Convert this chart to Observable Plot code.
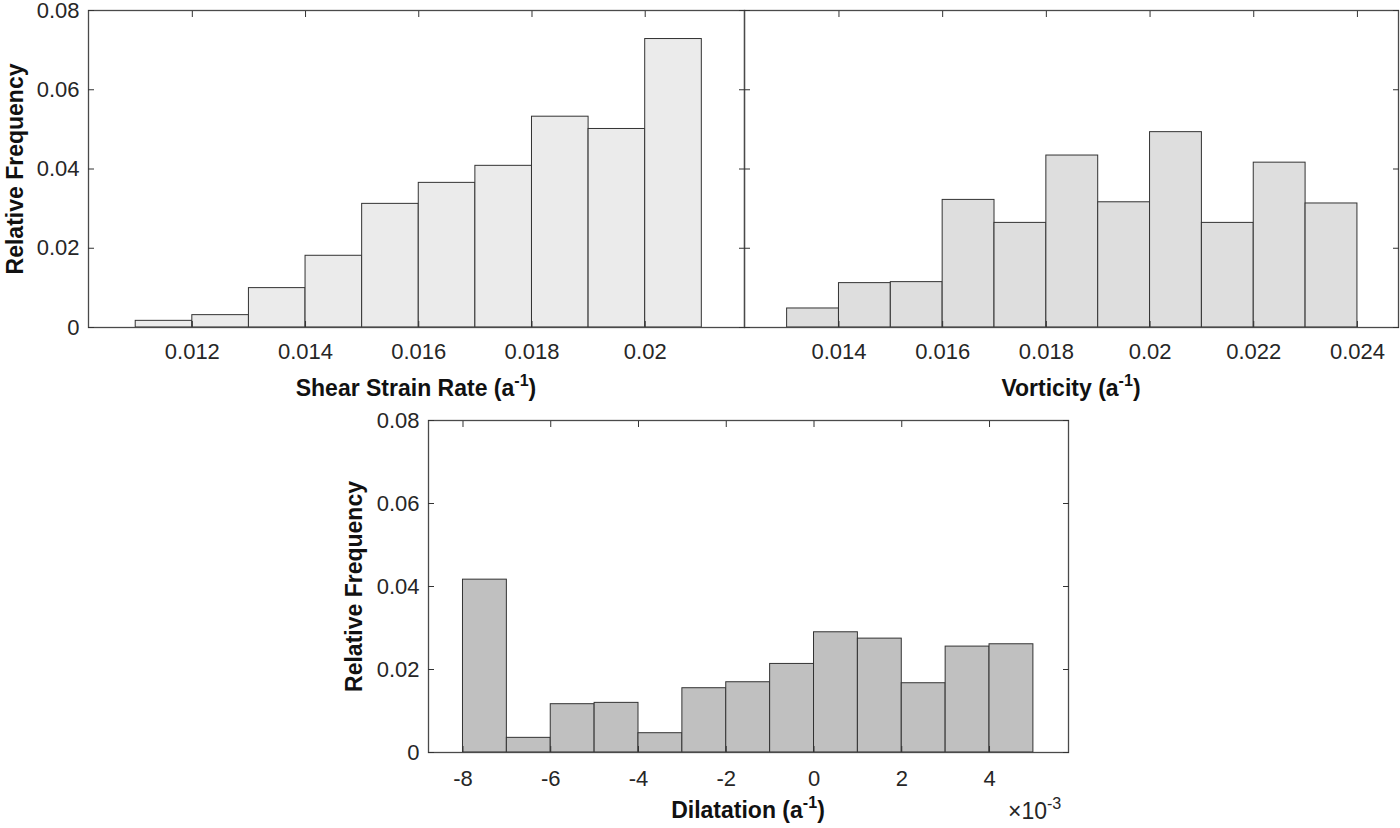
<!DOCTYPE html>
<html>
<head>
<meta charset="utf-8">
<script src="https://cdn.jsdelivr.net/npm/d3@7"></script>
<script src="https://cdn.jsdelivr.net/npm/@observablehq/plot@0.6"></script>
<style>
  html, body { margin: 0; padding: 0; background: #fff; }
  #root { position: relative; width: 1400px; height: 828px; overflow: hidden; font-family: "Liberation Sans", Arial, sans-serif; }
  .panel { position: absolute; }
  .xtitle { position: absolute; text-align: center; font-weight: bold; font-size: 23px; line-height: 23px; color: #111; white-space: nowrap; }
  .xtitle sup, .mult sup { font-size: 0.7em; vertical-align: 0.6em; line-height: 0; }
  .mult { position: absolute; font-size: 23px; line-height: 23px; color: #262626; white-space: nowrap; }
</style>
</head>
<body>
<div id="root"></div>
<script>
// ---- data ----
const yTicks = [0, 0.02, 0.04, 0.06, 0.08];

const shearEdges = [0.011, 0.012, 0.013, 0.014, 0.015, 0.016, 0.017, 0.018, 0.019, 0.020, 0.021];
const shearFreq  = [0.00168, 0.00312, 0.00994, 0.0181, 0.0312, 0.0365, 0.0408, 0.0532, 0.0501, 0.0728];
const shearTicks = [0.012, 0.014, 0.016, 0.018, 0.02];

const vortEdges = [0.013, 0.014, 0.015, 0.016, 0.017, 0.018, 0.019, 0.020, 0.021, 0.022, 0.023, 0.024];
const vortFreq  = [0.0048, 0.0112, 0.01145, 0.0322, 0.0264, 0.0434, 0.0316, 0.0493, 0.0264, 0.0416, 0.0313];
const vortTicks = [0.014, 0.016, 0.018, 0.02, 0.022, 0.024];

// dilatation in units of 1e-3 a^-1
const dilEdges = [-8, -7, -6, -5, -4, -3, -2, -1, 0, 1, 2, 3, 4, 5];
const dilFreq  = [0.04165, 0.00353, 0.01164, 0.01196, 0.00465, 0.01549, 0.01693, 0.02134, 0.02897, 0.02744, 0.01669, 0.02552, 0.02608];
const dilTicks = [-8, -6, -4, -2, 0, 2, 4];

const root = document.getElementById("root");
const fmt = d => d === 0 ? "0" : String(d);

function panel(cfg) {
  const bins = cfg.freq.map((f, i) => ({x1: cfg.edges[i], x2: cfg.edges[i + 1], y: f}));
  const marks = [
    Plot.rectY(bins, {x1: "x1", x2: "x2", y: "y", fill: cfg.fill, stroke: "#333", strokeWidth: 1}),
    Plot.frame({stroke: "#4a4a4a", strokeWidth: 1.3}),
    Plot.axisX({anchor: "bottom", ticks: cfg.xTicks, tickSize: -6, fill: "none", stroke: "#333"}),
    Plot.axisX({anchor: "top", ticks: cfg.xTicks, tickSize: -6, fill: "none", stroke: "#333"}),
    Plot.axisY({anchor: "left", ticks: yTicks, tickSize: -6, fill: "none", stroke: "#333"}),
    Plot.axisY({anchor: "right", ticks: yTicks, tickSize: -6, fill: "none", stroke: "#333"}),
    Plot.axisX({anchor: "bottom", ticks: cfg.xTicks, tickSize: 0, tickPadding: cfg.xPad, tickFormat: fmt, label: null, fill: "#262626"})
  ];
  if (cfg.yLabels) {
    marks.push(Plot.axisY({anchor: "left", ticks: yTicks, tickSize: 0, tickPadding: 9, tickFormat: fmt, label: null, fill: "#262626"}));
    marks.push(Plot.text(["Relative Frequency"], {frameAnchor: "left", text: d => d, textAnchor: "middle", rotate: -90, dx: cfg.yLabelDx, fontWeight: "bold", fontSize: 23, fill: "#111"}));
  }
  const svg = Plot.plot({
    width: cfg.width, height: cfg.height,
    marginLeft: cfg.ml, marginRight: cfg.mr, marginTop: cfg.mt, marginBottom: cfg.mb,
    x: {type: "linear", domain: cfg.xDomain},
    y: {type: "linear", domain: [0, 0.08]},
    style: {fontSize: "22px", fontFamily: "'Liberation Sans', Arial, sans-serif", overflow: "visible", background: "transparent"},
    marks
  });
  const div = document.createElement("div");
  div.className = "panel";
  div.style.left = cfg.left + "px";
  div.style.top = cfg.top + "px";
  div.appendChild(svg);
  root.appendChild(div);
}

// top-left: frame x 88..744, y 10..327
panel({edges: shearEdges, freq: shearFreq, xTicks: shearTicks, xDomain: [0.010166, 0.021754], fill: "#ebebeb",
  left: 0, top: 0, width: 745, height: 370, ml: 88, mr: 1, mt: 10, mb: 43, xPad: 16, yLabels: true, yLabelDx: -73});
// top-right: frame x 744..1398
panel({edges: vortEdges, freq: vortFreq, xTicks: vortTicks, xDomain: [0.012178, 0.024792], fill: "#dedede",
  left: 700, top: 0, width: 700, height: 370, ml: 44, mr: 2, mt: 10, mb: 43, xPad: 16, yLabels: false});
// bottom: frame x 428..1068, y 420..752
panel({edges: dilEdges, freq: dilFreq, xTicks: dilTicks, xDomain: [-8.786, 5.80], fill: "#c0c0c0",
  left: 330, top: 405, width: 740, height: 387, ml: 98, mr: 2, mt: 15, mb: 40, xPad: 18, yLabels: true, yLabelDx: -74});

function addTitle(html, cx, top, cls) {
  const d = document.createElement("div");
  d.className = cls;
  d.innerHTML = html;
  d.style.top = top + "px";
  root.appendChild(d);
  const w = d.getBoundingClientRect().width;
  d.style.left = (cx - w / 2) + "px";
}
addTitle("Shear Strain Rate (a<sup>-1</sup>)", 416, 377, "xtitle");
addTitle("Vorticity (a<sup>-1</sup>)", 1071, 377, "xtitle");
addTitle("Dilatation (a<sup>-1</sup>)", 748, 799, "xtitle");

const m = document.createElement("div");
m.className = "mult";
m.innerHTML = "&times;10<sup>-3</sup>";
m.style.left = "1008px";
m.style.top = "800px";
root.appendChild(m);
</script>
</body>
</html>
